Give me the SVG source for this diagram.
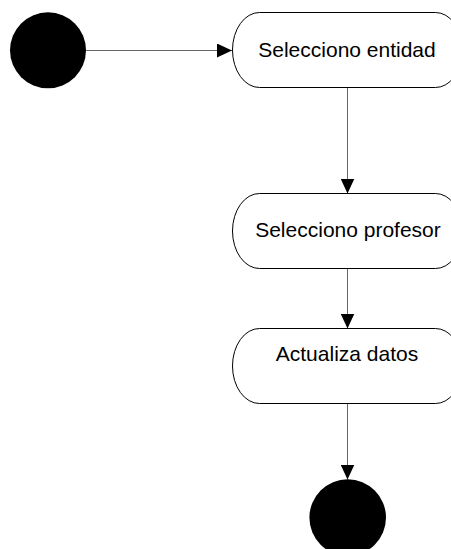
<svg xmlns="http://www.w3.org/2000/svg" width="451" height="549" viewBox="0 0 451 549">
  <style>
    .state { fill: #ffffff; stroke: #000000; stroke-width: 1; }
    .pseudo { fill: #000000; }
    .label { font-family: "Liberation Sans", Arial, sans-serif; font-size: 21px; fill: #000000; text-anchor: middle; }
    .flow { fill: none; stroke: #666666; stroke-width: 1; marker-end: url(#arrow); }
  </style>
  <defs>
    <marker id="arrow" markerUnits="userSpaceOnUse" markerWidth="15" markerHeight="14" viewBox="0 0 15 14" refX="15" refY="7" orient="auto">
      <path d="M0,0 L15,7 L0,14 Z" fill="#000000"/>
    </marker>
  </defs>
  <rect width="451" height="549" fill="#ffffff"/>

  <g id="connectors">
    <line class="flow" x1="86" y1="50.5" x2="232" y2="50.5"/>
    <line class="flow" x1="347.5" y1="88" x2="347.5" y2="193.5"/>
    <line class="flow" x1="347.5" y1="268.5" x2="347.5" y2="328.5"/>
    <line class="flow" x1="347.5" y1="403.5" x2="347.5" y2="479.5"/>
  </g>

  <g id="start">
    <circle class="pseudo" cx="48" cy="50.3" r="38"/>
  </g>

  <g id="selecciono-entidad">
    <rect class="state" x="232.5" y="12.5" width="230" height="75" rx="27" ry="37.5"/>
    <text class="label" x="347" y="57">Selecciono entidad</text>
  </g>

  <g id="selecciono-profesor">
    <rect class="state" x="232.5" y="193.5" width="230" height="75" rx="27" ry="37.5"/>
    <text class="label" x="348" y="236.7">Selecciono profesor</text>
  </g>

  <g id="actualiza-datos">
    <rect class="state" x="232.5" y="328.5" width="230" height="75" rx="27" ry="37.5"/>
    <text class="label" x="347" y="360.7">Actualiza datos</text>
  </g>

  <g id="end">
    <circle class="pseudo" cx="347.7" cy="517.6" r="38.3"/>
  </g>
</svg>
